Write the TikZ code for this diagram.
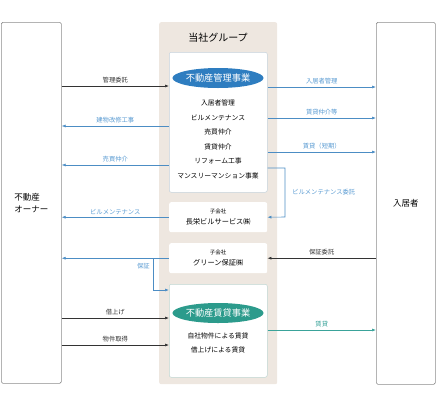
\documentclass[tikz,border=0pt]{standalone}
\usepackage{fontspec}
\setmainfont{Noto Sans CJK JP}
\usetikzlibrary{arrows.meta,shapes.geometric}

\definecolor{grpbg}{HTML}{EEE7E0}
\definecolor{sidegray}{HTML}{8C8C8C}
\definecolor{mgmtblue}{HTML}{2E7DC0}
\definecolor{rentteal}{HTML}{2C9B8C}
\definecolor{flowblue}{HTML}{4C8DC4}
\definecolor{lblblue}{HTML}{5A9BD2}
\definecolor{flowteal}{HTML}{3AA39A}
\definecolor{flowblack}{HTML}{333333}
\definecolor{innerline}{HTML}{C5D2DC}
\definecolor{rentline}{HTML}{BFD6D2}

\tikzset{
  sidebox/.style={draw=sidegray, line width=0.6pt, rounded corners=1.5pt, anchor=north west,
    inner sep=0pt, font=\fontsize{8.5}{12}\selectfont, align=left},
  innerbox/.style={fill=white, draw=innerline, line width=0.5pt, rounded corners=2pt,
    anchor=north west, inner sep=0pt, minimum width=98pt},
  subbox/.style={fill=white, rounded corners=2pt, anchor=north west, inner sep=0pt,
    minimum width=98pt, minimum height=30pt, align=center, font=\fontsize{7.2}{11}\selectfont},
  bizoval/.style={ellipse, minimum width=89pt, minimum height=20pt, inner sep=0pt,
    text=white, font=\fontsize{9.2}{10}\selectfont},
  flowline/.style={line width=0.6pt, -{Latex[length=4pt,width=3pt]}},
  blk/.style={flowline, draw=flowblack},
  blu/.style={flowline, draw=flowblue},
  tea/.style={flowline, draw=flowteal},
  lbl/.style={font=\fontsize{6.3}{7}\selectfont, inner sep=1pt, above=1.5pt},
}

\begin{document}
\begin{tikzpicture}[x=1pt,y=-1pt]
    \useasboundingbox (0,0) rectangle (436,408);

    % Owner and tenant
    \node[sidebox, minimum width=60pt, minimum height=361pt] (owner) at (1,22) {不動産\\オーナー};
    \node[sidebox, minimum width=59pt, minimum height=362pt] (tenant) at (376,22) {入居者};

    % Group
    \node[fill=grpbg, rounded corners=2pt, anchor=north west, minimum width=118pt,
      minimum height=362pt, inner sep=0pt] (group) at (159,22) {};
    \node[font=\fontsize{10}{10}\selectfont] (grouptitle) at (218,38) {当社グループ};

    % Property management
    \node[innerbox, minimum height=140pt] (mgmt) at (169,52) {};
    \node[bizoval, fill=mgmtblue] (mgmtoval) at (218,78) {不動産管理事業};
    \node[font=\fontsize{6.8}{14.6}\selectfont, align=center] (mgmtlist) at (218,139.5)
      {入居者管理\\ビルメンテナンス\\売買仲介\\賃貸仲介\\リフォーム工事\\マンスリーマンション事業};

    % Subsidiaries
    \node[subbox] (bldg) at (169,202) {{\fontsize{5.5}{6}\selectfont 子会社}\\長栄ビルサービス㈱};
    \node[subbox] (grn) at (169,243) {{\fontsize{5.5}{6}\selectfont 子会社}\\グリーン保証㈱};

    % Property leasing
    \node[innerbox, draw=rentline, minimum height=93pt] (rent) at (169,284) {};
    \node[bizoval, fill=rentteal] (rentoval) at (218,313) {不動産賃貸事業};
    \node[font=\fontsize{6.8}{14}\selectfont, align=center] (rentlist) at (218,343)
      {自社物件による賃貸\\借上げによる賃貸};

    % Owner side
    \draw[blk] (owner.east |- 0,86) -- node[lbl, text=flowblack] (l1) {管理委託} (mgmt.west |- 0,86);
    \draw[blu] (mgmt.west |- 0,126) -- node[lbl, text=lblblue] (l2) {建物改修工事} (owner.east |- 0,126);
    \draw[blu] (mgmt.west |- 0,165) -- node[lbl, text=lblblue] (l3) {売買仲介} (owner.east |- 0,165);
    \draw[blu] (bldg.west) -- node[lbl, text=lblblue] (l4) {ビルメンテナンス} (owner.east |- bldg.west);
    \draw[blu] (grn.west) -- (owner.east |- grn.west);
    \draw[blu] (grn.west -| 153,0) -- node[left=2pt, pos=0.25, font=\fontsize{6.3}{7}\selectfont,
      inner sep=1pt, text=lblblue] (l5) {保証} (153,290) -- (rent.west |- 0,290);
    \draw[blk] (owner.east |- 0,318) -- node[lbl, text=flowblack] (l6) {借上げ} (rent.west |- 0,318);
    \draw[blk] (owner.east |- 0,345) -- node[lbl, text=flowblack] (l7) {物件取得} (rent.west |- 0,345);

    % Tenant side
    \draw[blu] (mgmt.east |- 0,87) -- node[lbl, text=lblblue] (r1) {入居者管理} (tenant.west |- 0,87);
    \draw[blu] (mgmt.east |- 0,118) -- node[lbl, text=lblblue] (r2) {賃貸仲介等} (tenant.west |- 0,118);
    \draw[blu] (mgmt.east |- 0,152) -- node[lbl, text=lblblue] (r3) {賃貸（短期）} (tenant.west |- 0,152);
    \draw[blu] (mgmt.east |- 0,168) -- (285,168) -- node[right=6pt, font=\fontsize{6.3}{7}\selectfont,
      inner sep=1pt, text=lblblue] (r4) {ビルメンテナンス委託} (285,217) -- (bldg.east);
    \draw[blk] (tenant.west |- grn.east) -- node[lbl, text=flowblack] (r5) {保証委託} (grn.east);
    \draw[tea] (rent.east |- 0,330) -- node[lbl, text=flowteal] (r6) {賃貸} (tenant.west |- 0,330);
  \end{tikzpicture}
\end{document}
